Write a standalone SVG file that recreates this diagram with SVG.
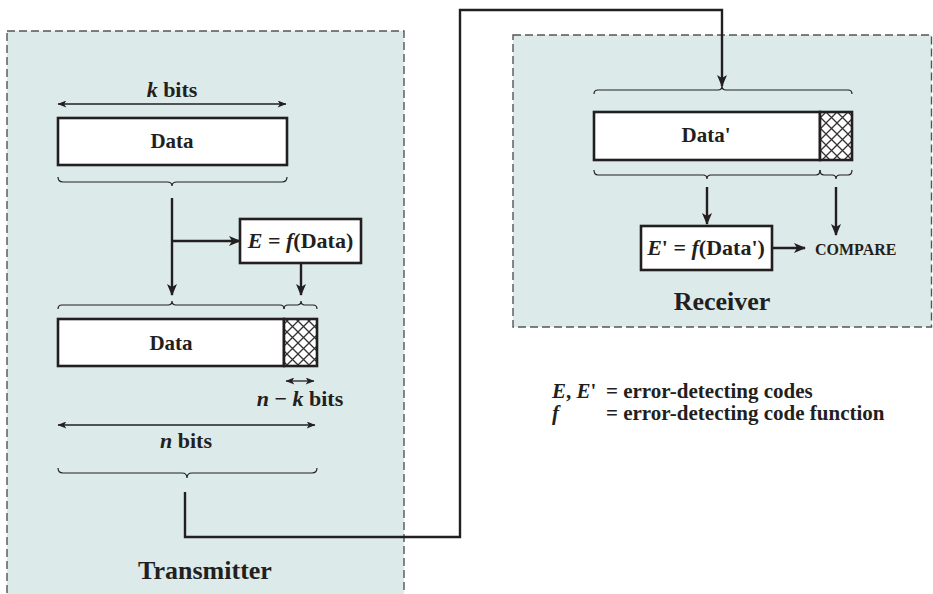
<svg xmlns="http://www.w3.org/2000/svg" width="933" height="594" viewBox="0 0 933 594">
<style>
text{font-family:"Liberation Serif","Times New Roman",serif;font-weight:bold;fill:#231f20}
.c{text-anchor:middle}
.i{font-style:italic}
.region{fill:#dceaea;stroke:#555;stroke-width:1.4;stroke-dasharray:8 4}
.box{fill:#fff;stroke:#231f20;stroke-width:2.6}
.wire{fill:none;stroke:#231f20;stroke-width:2.4}
.thin{fill:none;stroke:#231f20;stroke-width:1.3}
.brace{fill:none;stroke:#231f20;stroke-width:1.2}
</style>
<defs>
<marker id="ah" viewBox="0 0 12 10" refX="11" refY="5" markerWidth="12" markerHeight="10" markerUnits="userSpaceOnUse" orient="auto">
<path d="M0,0 L12,5 L0,10 L3,5 Z" fill="#231f20"/>
</marker>
<marker id="sh" viewBox="0 0 10 8" refX="9.5" refY="4" markerWidth="10" markerHeight="7" markerUnits="userSpaceOnUse" orient="auto-start-reverse">
<path d="M0,0 L10,4 L0,8 L2.5,4 Z" fill="#231f20"/>
</marker>
<pattern id="hatch" patternUnits="userSpaceOnUse" width="11" height="11" x="1" y="2">
<rect width="11" height="11" fill="#fff"/>
<path d="M-1,-1 L12,12 M12,-1 L-1,12" stroke="#333" stroke-width="1.3"/>
</pattern>
</defs>

<g id="transmitter">
<rect class="region" x="7" y="31" width="397" height="580"/>
<text class="c" x="205" y="579" font-size="26">Transmitter</text>
</g>
<g id="receiver">
<rect class="region" x="513" y="35" width="418.5" height="292"/>
<text class="c" x="722" y="310" font-size="26">Receiver</text>
</g>

<g id="data-k">
<line class="thin" x1="58" y1="104" x2="286" y2="104" marker-start="url(#sh)" marker-end="url(#sh)"/>
<text class="c" x="172" y="97" font-size="22"><tspan class="i">k</tspan> bits</text>
<rect class="box" x="58" y="118" width="229" height="47"/>
<text class="c" x="172" y="148" font-size="21">Data</text>
<path class="brace" d="M58,177 Q58,182 63,182 L167,182 Q172,182 172,186 Q172,182 177,182 L282,182 Q287,182 287,177"/>
</g>

<g id="efunc">
<rect class="box" x="240" y="219" width="121" height="44"/>
<text class="c" x="300.5" y="248" font-size="22"><tspan class="i">E</tspan> = <tspan class="i">f</tspan>(Data)</text>
</g>

<g id="data-n">
<path class="brace" d="M58,309 Q58,305 62,305 L168,305 Q172,305 172,301 Q172,305 176,305 L280,305 Q284,305 284,309"/>
<path class="brace" d="M284,309 Q284,305 288,305 L297,305 Q301,305 301,301 Q301,305 305,305 L313,305 Q317,305 317,309"/>
<rect class="box" x="58" y="319" width="226" height="47"/>
<rect class="box" x="284" y="319" width="33" height="47" style="fill:url(#hatch)"/>
<text class="c" x="171" y="350" font-size="21">Data</text>
<line class="thin" x1="286" y1="381" x2="314" y2="381" marker-start="url(#sh)" marker-end="url(#sh)"/>
<text class="c" x="300" y="406" font-size="22"><tspan class="i">n</tspan> − <tspan class="i">k</tspan> bits</text>
<line class="thin" x1="58" y1="425" x2="315" y2="425" marker-start="url(#sh)" marker-end="url(#sh)"/>
<text class="c" x="186" y="448" font-size="22"><tspan class="i">n</tspan> bits</text>
<path class="brace" d="M58,468 Q58,473 63,473 L182,473 Q187,473 187,478 Q187,473 192,473 L312,473 Q317,473 317,468"/>
</g>

<g id="data-recv">
<path class="brace" d="M594,94 Q594,90 598,90 L718,90 Q722,90 722,86 Q722,90 726,90 L848,90 Q852,90 852,94"/>
<rect class="box" x="594" y="112" width="226" height="48"/>
<rect class="box" x="820" y="112" width="32" height="48" style="fill:url(#hatch)"/>
<text class="c" x="706" y="142" font-size="21">Data'</text>
<path class="brace" d="M594,170 Q594,175 598,175 L703,175 Q707,175 707,179 Q707,175 711,175 L816,175 Q820,175 820,170"/>
<path class="brace" d="M820,170 Q820,175 824,175 L832,175 Q836,175 836,179 Q836,175 840,175 L848,175 Q852,175 852,170"/>
</g>

<g id="efunc-recv">
<rect class="box" x="641" y="226" width="131" height="44"/>
<text class="c" x="706" y="255" font-size="22"><tspan class="i">E</tspan>' = <tspan class="i">f</tspan>(Data')</text>
</g>

<g id="compare">
<text x="815" y="255" font-size="16">COMPARE</text>
</g>

<g id="legend">
<text x="552" y="398" font-size="21"><tspan class="i">E</tspan>, <tspan class="i">E</tspan>'</text>
<text x="606" y="398" font-size="21">= error-detecting codes</text>
<text x="552" y="420" font-size="21" class="i">f</text>
<text x="606" y="420" font-size="21">= error-detecting code function</text>
</g>

<g id="connectors">
<polyline class="wire" points="172,198 172,295" marker-end="url(#ah)"/>
<polyline class="wire" points="172,241 240,241" marker-end="url(#ah)"/>
<polyline class="wire" points="301,263 301,295" marker-end="url(#ah)"/>
<polyline class="wire" points="185,492 185,537 460,537 460,10 722,10 722,86" marker-end="url(#ah)"/>
<polyline class="wire" points="707,187 707,224" marker-end="url(#ah)"/>
<polyline class="wire" points="836,187 836,235" marker-end="url(#ah)"/>
<polyline class="wire" points="772,248 805,248" marker-end="url(#ah)"/>
</g>
</svg>
